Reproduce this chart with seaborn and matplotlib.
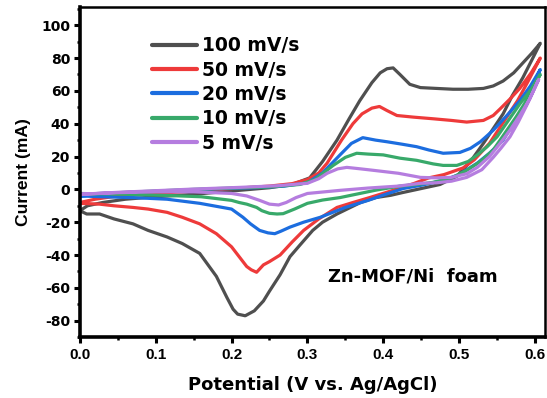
import numpy as np
import pandas as pd
import matplotlib
matplotlib.use("Agg")
import matplotlib.pyplot as plt
from matplotlib.ticker import MultipleLocator
import seaborn as sns

rates = ["100 mV/s", "50 mV/s", "20 mV/s", "10 mV/s", "5 mV/s"]
colors = ["#4f4f4f", "#ee3a3a", "#1c6ddf", "#38a96a", "#b57ddf"]

# 100 mV/s
v100_a = [0, 0.01, 0.03, 0.06, 0.10, 0.15, 0.20, 0.25, 0.28, 0.303, 0.32, 0.339, 0.355, 0.369, 0.385, 0.396, 0.405, 0.413, 0.422, 0.435, 0.449, 0.47, 0.492, 0.512, 0.532, 0.545, 0.558, 0.572, 0.584, 0.596, 0.607]
i100_a = [-13, -10, -8, -6, -4.5, -3, -1, 1, 3, 7, 17, 30, 43, 54, 65, 71, 73.5, 74, 70, 64, 62, 61.5, 61, 61, 61.5, 63, 66, 71, 77, 83, 89]
v100_c = [0.607, 0.595, 0.584, 0.57, 0.558, 0.545, 0.532, 0.515, 0.497, 0.475, 0.45, 0.425, 0.41, 0.39, 0.37, 0.339, 0.32, 0.307, 0.29, 0.277, 0.264, 0.25, 0.242, 0.23, 0.218, 0.208, 0.202, 0.194, 0.18, 0.158, 0.135, 0.115, 0.09, 0.07, 0.045, 0.026, 0.009, 0]
i100_c = [89, 78, 68, 57, 46, 37, 28, 17, 8, 3, 0.5, -2, -3.6, -5, -8, -15, -20, -25, -34, -41, -52, -62, -68, -74, -77, -76, -73, -66, -53, -39, -33, -29, -25, -21, -18, -15, -15, -13]

# 50 mV/s
v50_a = [0, 0.02, 0.05, 0.10, 0.15, 0.20, 0.25, 0.28, 0.30, 0.315, 0.326, 0.345, 0.36, 0.372, 0.385, 0.395, 0.405, 0.418, 0.44, 0.466, 0.49, 0.51, 0.532, 0.545, 0.554, 0.567, 0.58, 0.595, 0.607]
i50_a = [-8, -6, -4, -2.5, -1, 0.5, 2, 3.5, 6, 10, 16, 30, 40, 46, 49.5, 50.5, 48, 45, 44, 43, 42, 41, 42, 45, 49, 55, 61.5, 71, 80]
v50_c = [0.607, 0.59, 0.577, 0.56, 0.54, 0.52, 0.505, 0.48, 0.46, 0.44, 0.41, 0.382, 0.36, 0.339, 0.315, 0.295, 0.28, 0.264, 0.25, 0.242, 0.233, 0.226, 0.22, 0.21, 0.2, 0.18, 0.158, 0.135, 0.115, 0.09, 0.07, 0.045, 0.026, 0]
i50_c = [80, 65, 54, 42, 28, 18, 13, 9, 7, 3.5, -1, -5, -8, -11, -18, -25, -32, -40, -44, -46, -50.5, -49, -47, -41, -35, -27, -21, -17, -14, -12, -11, -10, -9, -8.5]

# 20 mV/s
v20_a = [0, 0.03, 0.07, 0.12, 0.18, 0.23, 0.27, 0.30, 0.32, 0.343, 0.358, 0.373, 0.39, 0.405, 0.425, 0.444, 0.46, 0.479, 0.501, 0.515, 0.528, 0.545, 0.563, 0.58, 0.594, 0.607]
i20_a = [-4, -3, -1.8, -0.8, 0.3, 1, 2, 4, 10, 21, 28, 31.5, 30, 29, 27.5, 26, 24, 22, 22.5, 25, 29, 36, 45, 54, 63, 73]
v20_c = [0.607, 0.595, 0.584, 0.57, 0.558, 0.54, 0.524, 0.5, 0.479, 0.45, 0.426, 0.4, 0.38, 0.35, 0.317, 0.295, 0.277, 0.265, 0.257, 0.248, 0.237, 0.225, 0.215, 0.2, 0.158, 0.115, 0.07, 0.03, 0]
i20_c = [73, 60, 48, 39, 30, 22, 16, 9, 5.5, 2.5, 0.5, -3.5, -6.7, -11, -17, -20, -23, -25.5, -27, -26.5, -25, -21, -17, -12, -8.5, -6, -5, -4.5, -4]

# 10 mV/s
v10_a = [0, 0.05, 0.1, 0.15, 0.2, 0.25, 0.29, 0.31, 0.334, 0.35, 0.365, 0.38, 0.4, 0.422, 0.444, 0.466, 0.479, 0.497, 0.512, 0.524, 0.537, 0.55, 0.565, 0.58, 0.595, 0.607]
i10_a = [-3, -2, -1, 0, 0.8, 1.5, 3, 6, 14.6, 19.5, 22, 21.5, 21, 19, 17.7, 15.5, 14.6, 14.6, 17, 21, 26, 32, 42, 52, 61, 70]
v10_c = [0.607, 0.59, 0.575, 0.56, 0.545, 0.528, 0.51, 0.49, 0.466, 0.445, 0.422, 0.39, 0.343, 0.32, 0.3, 0.283, 0.268, 0.26, 0.25, 0.24, 0.233, 0.22, 0.21, 0.2, 0.16, 0.115, 0.06, 0]
i10_c = [70, 55, 44, 34, 24, 17, 11.6, 7, 4.3, 3, 2, -0.5, -5, -6.5, -8.5, -12, -14.8, -15, -14.6, -13, -11, -9, -8, -6.7, -4.5, -3.7, -3, -2.5]

# 5 mV/s
v5_a = [0, 0.05, 0.1, 0.15, 0.21, 0.26, 0.3, 0.315, 0.326, 0.34, 0.352, 0.37, 0.387, 0.42, 0.449, 0.47, 0.49, 0.51, 0.524, 0.54, 0.554, 0.567, 0.58, 0.593, 0.605]
i5_a = [-3, -1.8, -0.8, 0.2, 1.2, 2.2, 3.7, 6.5, 9.8, 12.5, 13.4, 12.5, 11.6, 9.8, 7.3, 7, 7.3, 9.5, 13.4, 20, 28, 36, 45, 55, 67]
v5_c = [0.605, 0.59, 0.578, 0.567, 0.555, 0.545, 0.53, 0.51, 0.49, 0.47, 0.449, 0.42, 0.38, 0.343, 0.3, 0.285, 0.272, 0.262, 0.25, 0.237, 0.22, 0.2, 0.15, 0.1, 0.05, 0]
i5_c = [67, 52, 41, 32, 25, 19.5, 12, 7.3, 5, 4, 3.7, 2, 0.8, -0.6, -2.5, -5, -8, -9.5, -9, -6.7, -4, -2.5, -1.5, -1.5, -2, -3]

series = [
    (v100_a, i100_a, v100_c, i100_c),
    (v50_a, i50_a, v50_c, i50_c),
    (v20_a, i20_a, v20_c, i20_c),
    (v10_a, i10_a, v10_c, i10_c),
    (v5_a, i5_a, v5_c, i5_c),
]

frames = []
for rate, (va, ia, vc, ic) in zip(rates, series):
    v = list(va) + list(vc)
    i = list(ia) + list(ic)
    frames.append(pd.DataFrame({"V": v, "I": i, "rate": rate}))
df = pd.concat(frames, ignore_index=True)

sns.set_theme(style="ticks")
plt.rcParams["font.family"] = ["Liberation Sans", "DejaVu Sans"]
plt.rcParams["font.weight"] = "bold"
for key in ["text.color", "axes.labelcolor", "xtick.color", "ytick.color", "axes.edgecolor"]:
    plt.rcParams[key] = "black"
WIDE = ["DejaVu Sans"]
NARROW = ["Liberation Sans", "DejaVu Sans"]

fig = plt.figure(figsize=(5.47, 3.98), dpi=100)
ax = fig.add_axes([0.146, 0.153, 0.85, 0.829])

sns.lineplot(data=df, x="V", y="I", hue="rate", hue_order=rates,
             palette=colors, sort=False, estimator=None, lw=2.3, ax=ax)

ax.set_xlim(0, 0.613)
ax.set_ylim(-90, 111)
ax.xaxis.set_major_locator(MultipleLocator(0.1))
ax.xaxis.set_minor_locator(MultipleLocator(0.05))
ax.yaxis.set_major_locator(MultipleLocator(20))
ax.yaxis.set_minor_locator(MultipleLocator(10))
xt = np.arange(0, 0.61, 0.1)
ax.set_xticks(xt)
ax.set_xticklabels([f"{t:.1f}" for t in xt])
yt = np.arange(-80, 101, 20)
ax.set_yticks(yt)
ax.set_yticklabels([f"{t:d}" for t in yt])

for s in ["left", "bottom"]:
    ax.spines[s].set_linewidth(2.6)
for s in ["top", "right"]:
    ax.spines[s].set_linewidth(1.8)
for s in ax.spines.values():
    s.set_color("black")
ax.tick_params(axis="both", which="major", direction="out", length=4, width=2.2,
               pad=3, colors="black")
ax.tick_params(axis="x", which="major", pad=4)
ax.tick_params(axis="both", which="minor", direction="out", length=2.5, width=1.8,
               colors="black")
for lab in ax.get_xticklabels():
    lab.set_family(NARROW)
    lab.set_fontsize(11)
    lab.set_fontweight("bold")
for lab in ax.get_yticklabels():
    lab.set_family(WIDE)
    lab.set_fontsize(10)
    lab.set_fontweight("bold")

ax.set_xlabel("Potential (V vs. Ag/AgCl)", fontsize=13, fontweight="bold",
              family=WIDE, labelpad=10, color="black")
ax.set_ylabel("Current (mA)", fontsize=12.6, fontweight="bold",
              family=NARROW, labelpad=7, color="black")

leg = ax.legend(loc="upper left", bbox_to_anchor=(0.14, 0.935), frameon=False,
                prop={"family": WIDE, "size": 13.5, "weight": "bold"},
                handlelength=2.4, handletextpad=0.25, labelspacing=0.29,
                borderaxespad=0, labelcolor="black")
for h in leg.get_lines():
    h.set_linewidth(3)

ax.text(0.716, 0.185, "Zn-MOF/Ni  foam", transform=ax.transAxes, ha="center",
        va="center", fontsize=13, fontweight="bold", family=WIDE, color="black")

fig.savefig("out.png", dpi=100)
